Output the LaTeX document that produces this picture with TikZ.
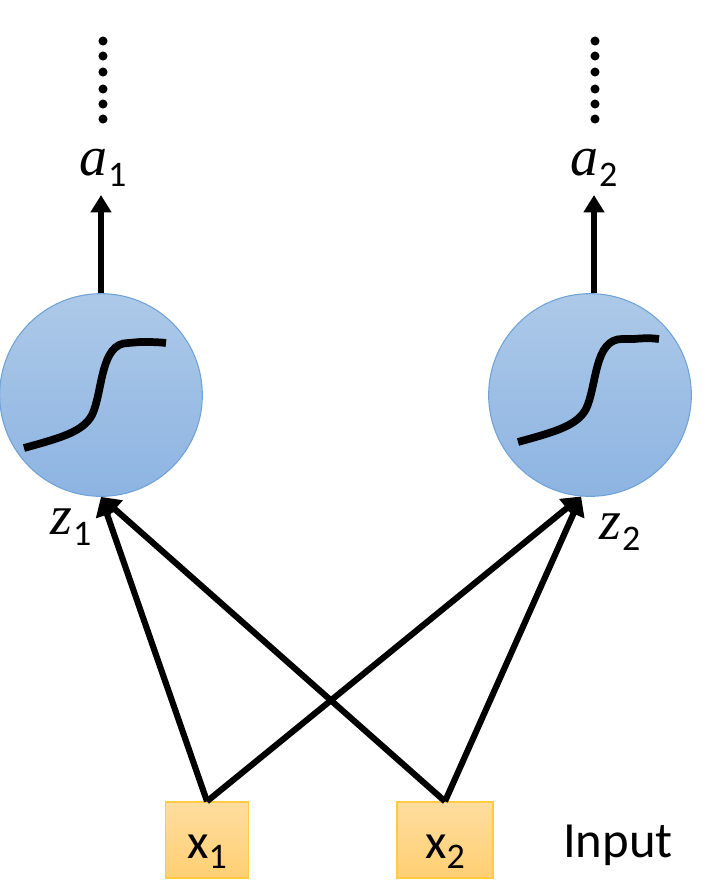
\documentclass[tikz,border=0pt]{standalone}
\usepackage{fontspec}
\setmainfont{Carlito}
\newfontfamily\varfont{Liberation Serif}
\usetikzlibrary{arrows.meta}
\definecolor{unittop}{HTML}{ADC9E8}
\definecolor{unitbot}{HTML}{8DB4E2}
\definecolor{unitline}{HTML}{6FA3D8}
\definecolor{inputtop}{HTML}{FFDD9F}
\definecolor{inputbot}{HTML}{FFCF73}
\definecolor{inputline}{HTML}{FFCB45}
\newcommand{\varlabel}[2]{{\fontsize{42}{46}\varfont\itshape #1}\hspace{0.5pt}\raisebox{-8pt}{\fontsize{27}{30}\selectfont #2}}
\newcommand{\inlabel}[1]{x\raisebox{-8pt}{\fontsize{27}{30}\selectfont #1}}
\tikzset{
    unit/.style={circle, draw=unitline, line width=0.8pt, top color=unittop, bottom color=unitbot, minimum size=152pt, inner sep=0pt},
    inbox/.style={rectangle, draw=inputline, line width=1pt, top color=inputtop, bottom color=inputbot, minimum width=#1, text height=42pt, text depth=15pt, inner sep=0pt, font=\fontsize{37}{40}\selectfont},
    outvar/.style={inner sep=0pt, anchor=south, text height=24pt, text depth=14.5pt},
    link/.style={-{Triangle[length=14pt, width=17pt]}, line width=4.6pt},
    outlink/.style={-{Triangle[length=13pt, width=15pt]}, line width=4.2pt},
    curve/.style={line width=5.8pt}
}
\begin{document}
\begin{tikzpicture}[x=0.75pt, y=-0.75pt]
    \useasboundingbox (0, 0) rectangle (714, 883);
    % activation units
    \node[unit] (n1) at (101, 395) {};
    \node[unit] (n2) at (590, 395) {};
    \draw[curve] (24, 448) .. controls (60, 438) and (83, 432) .. (92, 415) .. controls (103, 392) and (100, 343) .. (128, 343) -- (140, 342) .. controls (150, 342) and (158, 342) .. (166, 343);
    \draw[curve] (518, 442) .. controls (554, 432) and (577, 426) .. (586, 409) .. controls (597, 386) and (594, 339) .. (622, 339) -- (634, 339) .. controls (644, 338) and (652, 338) .. (659, 339);
    % input boxes
    \node[inbox=62pt] (x1) at (207, 840) {\inlabel{1}};
    \node[inbox=72pt] (x2) at (445, 840) {\inlabel{2}};
    \node[font=\fontsize{38}{40}\selectfont] (input) at (618, 845) {Input};
    % labels
    \node[outvar] (a1) at (103, 195) {\varlabel{a}{1}};
    \node[outvar] (a2) at (594, 195) {\varlabel{a}{2}};
    \node (z1) at (71, 527) {\varlabel{z}{1}};
    \node (z2) at (620, 532) {\varlabel{z}{2}};
    % arrows
    \draw[outlink] (n1.north) -- (n1.north |- a1.south);
    \draw[outlink] (a2.south |- n2.north) -- (a2.south);
    \draw[link] (x1.north) -- (n1.south);
    \draw[link] (x2.north) -- (n1.south);
    \draw[link] (x1.north) -- (n2.265);
    \draw[link] (x2.north) -- (n2.265);
    % dots above the outputs
    \foreach \y in {41, 56, 72, 89, 104, 119} {
        \fill (103, \y) circle[radius=3.4pt];
        \fill (595, \y) circle[radius=3.4pt];
    }
\end{tikzpicture}
\end{document}
